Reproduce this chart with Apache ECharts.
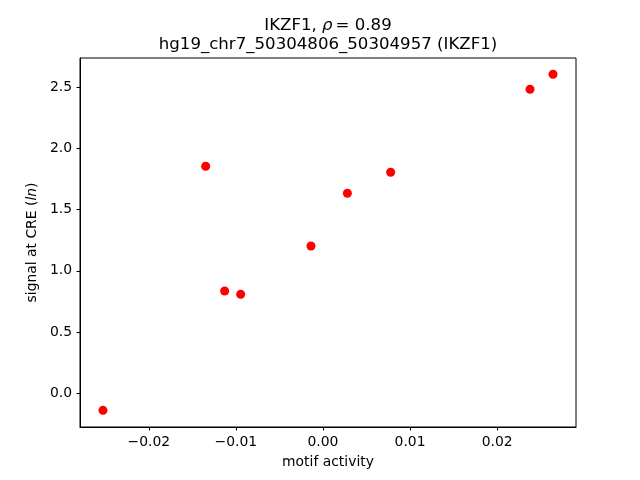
<!DOCTYPE html>
<html>
<head>
<meta charset="utf-8">
<script src="https://cdn.jsdelivr.net/npm/echarts@6/dist/echarts.min.js"></script>
<style>
  html, body { margin: 0; padding: 0; background: #fff; }
  #chart { width: 640px; height: 480px; }
</style>
</head>
<body>
<div id="chart"></div>
<script>
// motif activity vs signal at CRE
const motifActivity = [-0.02526, -0.01347, -0.01129, -0.00945, -0.00138, 0.0028, 0.00777, 0.02377, 0.02641]
const signal = [-0.139, 1.853, 0.835, 0.808, 1.202, 1.633, 1.804, 2.482, 2.604]
const xTicks = [-0.02, -0.01, 0.0, 0.01, 0.02]
const yTicks = [0.0, 0.5, 1.0, 1.5, 2.0, 2.5]

const fnt = 'DejaVu Sans'
const minus = (s) => s.replace('-', '\u2212')

const chart = echarts.init(document.getElementById('chart'))

chart.setOption({
  animation: false,
  backgroundColor: '#fff',
  title: {
    text: '{n|IKZF1, }{i|ρ}{n|= 0.89}\n{n|hg19_chr7_50304806_50304957 (IKZF1)}',
    left: 323,
    top: 11,
    textAlign: 'center',
    textStyle: {
      fontWeight: 'normal',
      rich: {
        n: { fontFamily: fnt, fontSize: 16.6, fontWeight: 'normal', color: '#000', lineHeight: 19 },
        i: { fontFamily: fnt, fontSize: 16.6, fontWeight: 'normal', color: '#000', fontStyle: 'italic', lineHeight: 19, padding: [0, 3, 0, 0] }
      }
    }
  },
  grid: {
    left: 80,
    right: 64,
    top: 58,
    bottom: 53,
    show: true,
    borderColor: '#000',
    borderWidth: 1,
    containLabel: false
  },
  xAxis: {
    type: 'value',
    min: -0.0279,
    max: 0.02905,
    name: 'motif activity',
    nameLocation: 'middle',
    nameGap: 28,
    nameTextStyle: { fontFamily: fnt, fontSize: 13.9, color: '#000' },
    splitLine: { show: false },
    axisLine: { show: true, onZero: false, lineStyle: { color: '#000', width: 1 } },
    axisTick: { show: true, inside: false, length: 3.5, customValues: xTicks, lineStyle: { color: '#000' } },
    axisLabel: {
      customValues: xTicks,
      margin: 8,
      fontFamily: fnt,
      fontSize: 13.9,
      color: '#000',
      formatter: (v) => minus(v.toFixed(2))
    }
  },
  yAxis: {
    type: 'value',
    min: -0.275,
    max: 2.737,
    name: '{n|signal at CRE (}{i|ln}{n|)}',
    nameLocation: 'middle',
    nameGap: 40,
    nameRotate: 90,
    nameTextStyle: {
      rich: {
        n: { fontFamily: fnt, fontSize: 13.9, color: '#000' },
        i: { fontFamily: fnt, fontSize: 13.9, color: '#000', fontStyle: 'italic' }
      }
    },
    splitLine: { show: false },
    axisLine: { show: true, onZero: false, lineStyle: { color: '#000', width: 1 } },
    axisTick: { show: true, inside: false, length: 3.5, customValues: yTicks, lineStyle: { color: '#000' } },
    axisLabel: {
      customValues: yTicks,
      margin: 8,
      fontFamily: fnt,
      fontSize: 13.9,
      color: '#000',
      formatter: (v) => minus(v.toFixed(1))
    }
  },
  series: [
    {
      type: 'scatter',
      symbol: 'circle',
      symbolSize: 9,
      itemStyle: { color: '#ff0000', opacity: 1 },
      data: motifActivity.map((x, i) => [x, signal[i]])
    }
  ]
})
</script>
</body>
</html>
